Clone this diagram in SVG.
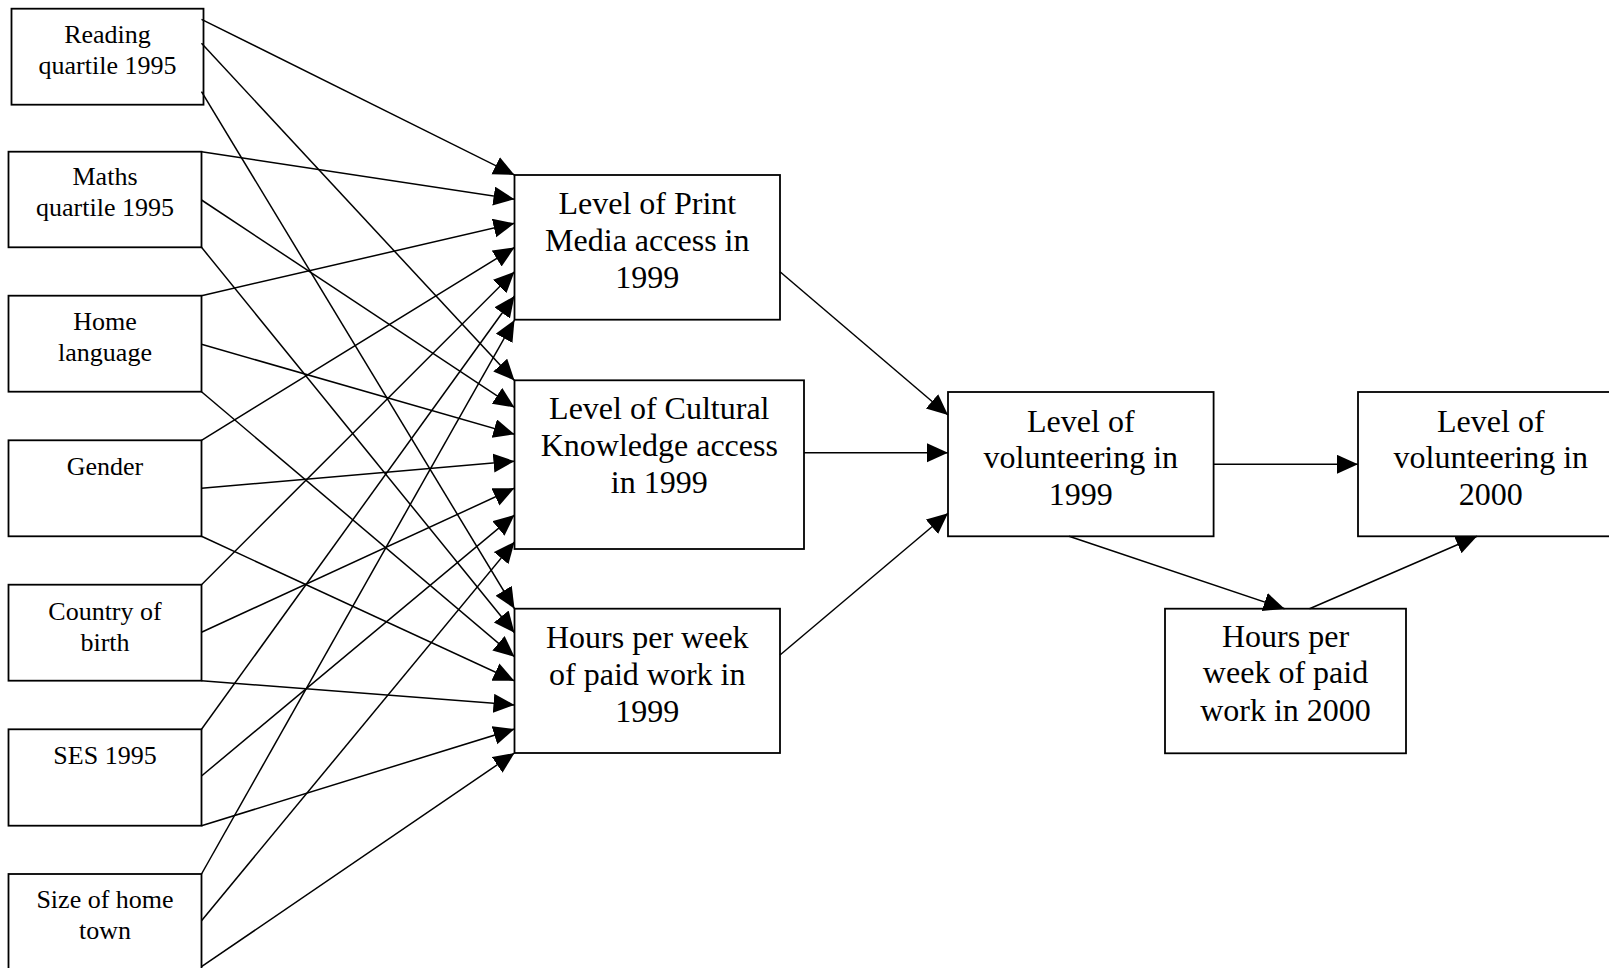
<svg xmlns="http://www.w3.org/2000/svg" width="1609" height="968" viewBox="0 0 1609 968">
<style>
.box{fill:#fff;stroke:#000;stroke-width:1.8}
.c line{stroke:#000;stroke-width:1.5;fill:none;marker-end:url(#ah)}
.s{font-family:"Liberation Serif","Times New Roman",serif;font-size:26px;text-anchor:middle;fill:#000}
.b{font-family:"Liberation Serif","Times New Roman",serif;font-size:32px;text-anchor:middle;fill:#000}
</style>
<defs>
<marker id="ah" markerWidth="22" markerHeight="20" refX="21" refY="9.5" orient="auto" markerUnits="userSpaceOnUse">
<path d="M0,0 L21,9.5 L0,19 z" fill="#000"/>
</marker>
</defs>
<rect width="1609" height="968" fill="#fff"/>

<g id="reading"><rect class="box" x="11.5" y="8.7" width="192" height="96"/>
<text class="s" x="107.5" y="42.7">Reading</text><text class="s" x="107.5" y="74">quartile 1995</text></g>
<g id="maths"><rect class="box" x="8.5" y="151.7" width="193" height="95.6"/>
<text class="s" x="105" y="185">Maths</text><text class="s" x="105" y="216">quartile 1995</text></g>
<g id="home"><rect class="box" x="8.5" y="295.7" width="193" height="96"/>
<text class="s" x="105" y="330">Home</text><text class="s" x="105" y="361">language</text></g>
<g id="gender"><rect class="box" x="8.5" y="440.3" width="193" height="96"/>
<text class="s" x="105" y="475">Gender</text></g>
<g id="country"><rect class="box" x="8.5" y="584.7" width="193" height="96"/>
<text class="s" x="105" y="620">Country of</text><text class="s" x="105" y="650.7">birth</text></g>
<g id="ses"><rect class="box" x="8.5" y="729.3" width="193" height="96.4"/>
<text class="s" x="105" y="764">SES 1995</text></g>
<g id="size"><rect class="box" x="8.5" y="874" width="193" height="110"/>
<text class="s" x="105" y="908.3">Size of home</text><text class="s" x="105" y="939.3">town</text></g>

<g id="print"><rect class="box" x="514.5" y="175" width="265.5" height="144.7"/>
<text class="b" x="647.3" y="214.3">Level of Print</text><text class="b" x="647.3" y="251.3">Media access in</text><text class="b" x="647.3" y="288.3">1999</text></g>
<g id="cultural"><rect class="box" x="514.5" y="380.3" width="289.5" height="168.7"/>
<text class="b" x="659.3" y="419.3">Level of Cultural</text><text class="b" x="659.3" y="456.3">Knowledge access</text><text class="b" x="659.3" y="493.3">in 1999</text></g>
<g id="hours1999"><rect class="box" x="514.5" y="608.7" width="265.5" height="144.3"/>
<text class="b" x="647.3" y="648.3">Hours per week</text><text class="b" x="647.3" y="685.3">of paid work in</text><text class="b" x="647.3" y="722.3">1999</text></g>
<g id="vol1999"><rect class="box" x="948" y="392" width="265.6" height="144.3"/>
<text class="b" x="1080.8" y="431.7">Level of</text><text class="b" x="1080.8" y="468.3">volunteering in</text><text class="b" x="1080.8" y="505">1999</text></g>
<g id="vol2000"><rect class="box" x="1358" y="392" width="265.6" height="144.3"/>
<text class="b" x="1490.8" y="431.7">Level of</text><text class="b" x="1490.8" y="468.3">volunteering in</text><text class="b" x="1490.8" y="505">2000</text></g>
<g id="hours2000"><rect class="box" x="1165" y="608.7" width="241" height="144.6"/>
<text class="b" x="1285.5" y="646.7">Hours per</text><text class="b" x="1285.5" y="683.3">week of paid</text><text class="b" x="1285.5" y="721.3">work in 2000</text></g>

<g id="connectors" class="c">
<line x1="201.5" y1="19.3" x2="514.5" y2="175"/>
<line x1="201.5" y1="43.3" x2="514.5" y2="380.5"/>
<line x1="201.5" y1="91.7" x2="514.5" y2="608.7"/>
<line x1="201.5" y1="151.7" x2="514.5" y2="199.2"/>
<line x1="201.5" y1="200" x2="514.5" y2="407.4"/>
<line x1="201.5" y1="247.3" x2="514.5" y2="632.8"/>
<line x1="201.5" y1="295.7" x2="514.5" y2="223.3"/>
<line x1="201.5" y1="344.3" x2="514.5" y2="434.3"/>
<line x1="201.5" y1="391.7" x2="514.5" y2="656.8"/>
<line x1="201.5" y1="440.3" x2="514.5" y2="247.5"/>
<line x1="201.5" y1="488.3" x2="514.5" y2="461.2"/>
<line x1="201.5" y1="536.3" x2="514.5" y2="680.9"/>
<line x1="201.5" y1="584.7" x2="514.5" y2="271.7"/>
<line x1="201.5" y1="632.3" x2="514.5" y2="488.1"/>
<line x1="201.5" y1="680.7" x2="514.5" y2="704.9"/>
<line x1="201.5" y1="729.3" x2="514.5" y2="295.9"/>
<line x1="201.5" y1="776" x2="514.5" y2="515"/>
<line x1="201.5" y1="825.7" x2="514.5" y2="729"/>
<line x1="201.5" y1="874" x2="514.5" y2="320"/>
<line x1="201.5" y1="920.7" x2="514.5" y2="541.9"/>
<line x1="201.5" y1="966.7" x2="514.5" y2="753"/>
<line x1="780" y1="271.7" x2="948" y2="415"/>
<line x1="804" y1="452.7" x2="948" y2="452.7"/>
<line x1="780" y1="655" x2="948" y2="513.3"/>
<line x1="1213.6" y1="464.3" x2="1358" y2="464.3"/>
<line x1="1069" y1="536.3" x2="1284.6" y2="608.7"/>
<line x1="1309.5" y1="608.7" x2="1477" y2="536.3"/>
</g>
</svg>
